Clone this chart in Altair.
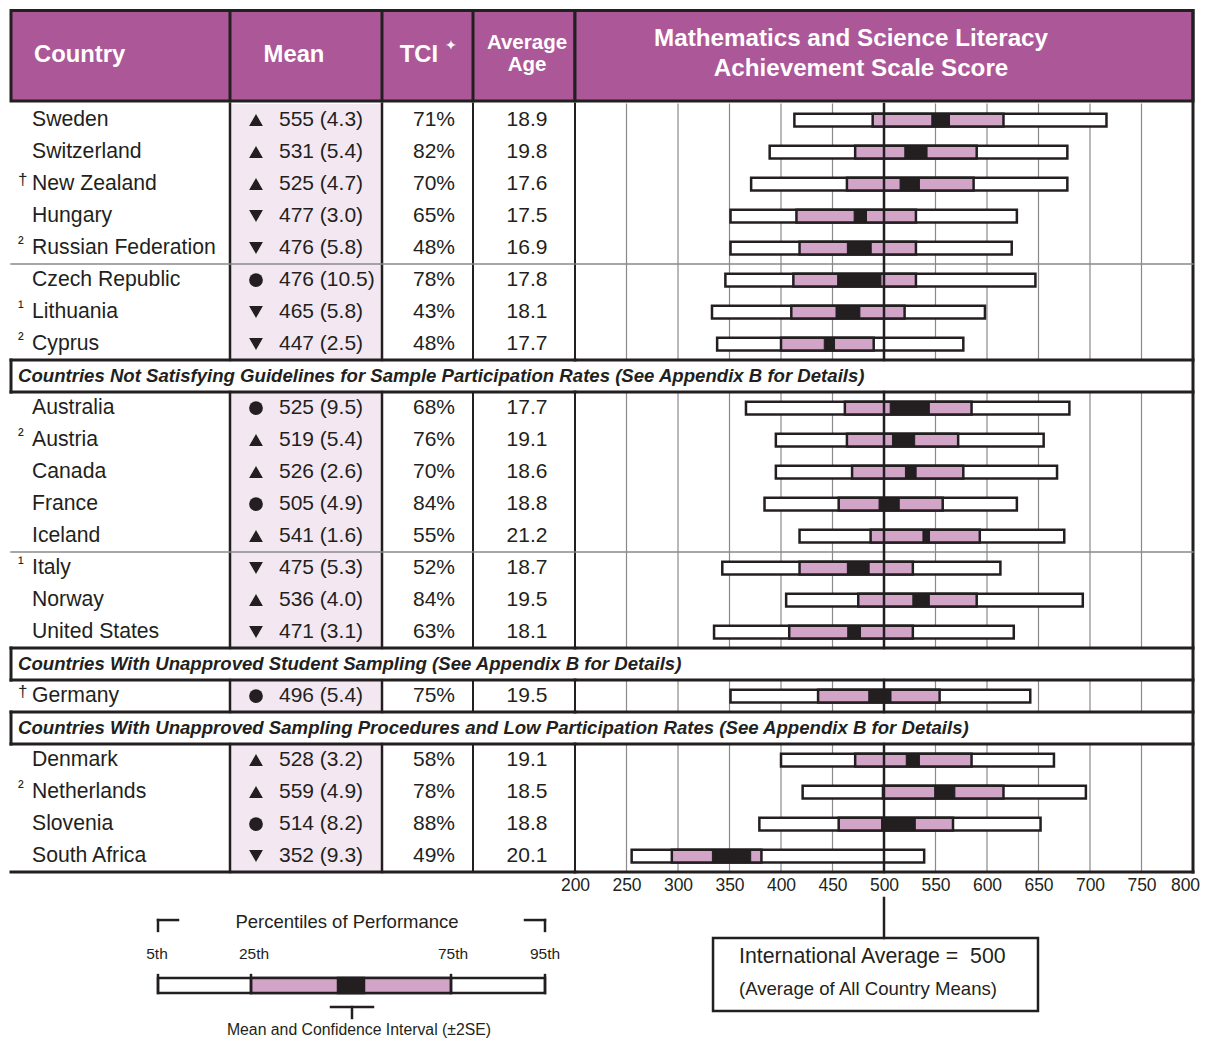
import altair as alt
import pandas as pd

DARK = "#231f20"
PURPLE = "#ac5898"
PINK = "#d2a5c8"
MEANBG = "#f3e8f1"
GRID = "#8a8a8a"
FONT = "Liberation Sans"

# ---------------- data ----------------
countries = ["Sweden", "Switzerland", "New Zealand", "Hungary", "Russian Federation",
             "Czech Republic", "Lithuania", "Cyprus",
             "Australia", "Austria", "Canada", "France", "Iceland",
             "Italy", "Norway", "United States",
             "Germany",
             "Denmark", "Netherlands", "Slovenia", "South Africa"]
notes = ["", "", "\u2020", "", "\u00b2", "", "\u00b9", "\u00b2",
         "", "\u00b2", "", "", "", "\u00b9", "", "",
         "\u2020", "", "\u00b2", "", ""]
means = [555, 531, 525, 477, 476, 476, 465, 447, 525, 519, 526, 505, 541,
         475, 536, 471, 496, 528, 559, 514, 352]
ses = [4.3, 5.4, 4.7, 3.0, 5.8, 10.5, 5.8, 2.5, 9.5, 5.4, 2.6, 4.9, 1.6,
       5.3, 4.0, 3.1, 5.4, 3.2, 4.9, 8.2, 9.3]
signif = ["up", "up", "up", "down", "down", "same", "down", "down",
          "same", "up", "up", "same", "up", "down", "up", "down",
          "same", "up", "up", "same", "down"]
tci = [71, 82, 70, 65, 48, 78, 43, 48, 68, 76, 70, 84, 55, 52, 84, 63, 75, 58, 78, 88, 49]
ages = [18.9, 19.8, 17.6, 17.5, 16.9, 17.8, 18.1, 17.7, 17.7, 19.1, 18.6, 18.8, 21.2,
        18.7, 19.5, 18.1, 19.5, 19.1, 18.5, 18.8, 20.1]
p5 = [413, 389, 371, 351, 351, 346, 333, 338, 366, 395, 395, 384, 418, 343, 405, 335,
      351, 400, 421, 379, 255]
p25 = [489, 472, 464, 415, 418, 412, 410, 400, 462, 464, 469, 456, 487, 418, 475, 408,
       436, 472, 499, 456, 294]
p75 = [616, 590, 587, 531, 531, 531, 520, 490, 585, 572, 577, 557, 593, 528, 590, 528,
       554, 585, 616, 567, 381]
p95 = [716, 678, 678, 629, 624, 647, 598, 577, 680, 655, 668, 629, 675, 613, 693, 626,
       642, 665, 696, 652, 539]
slots = [0, 1, 2, 3, 4, 5, 6, 7, 9, 10, 11, 12, 13, 14, 15, 16, 18, 20, 21, 22, 23]

group_titles = [
    "Countries Not Satisfying Guidelines for Sample Participation Rates (See Appendix B for Details)",
    "Countries With Unapproved Student Sampling (See Appendix B for Details)",
    "Countries With Unapproved Sampling Procedures and Low Participation Rates (See Appendix B for Details)",
]
group_slots = [8, 17, 19]
segments = [(0, 8), (9, 17), (18, 19), (20, 24)]
thin_breaks = [5, 14]
score_ticks = list(range(200, 801, 50))
intl_avg = 500

# ---------------- layout helpers ----------------
YMIN = -2.97
H = 1026
YMAX = YMIN + H / 32.0
LW, RW = 564, 618
HT, HB = -2.92, -0.094  # header top / bottom

score_axis = alt.Axis(values=score_ticks, ticks=False, domain=False, grid=False,
                      labelFlush=False, labelOverlap=False, labelFont=FONT,
                      labelFontSize=17.5, labelColor=DARK, labelPadding=4,
                      labelOffset={"expr": "datum.value == 800 ? -8 : 0"},
                      offset=-(H - 32 * (24 - YMIN)), title=None)


def Y(f):
    return alt.Y(f"{f}:Q", scale=alt.Scale(domain=[YMIN, YMAX], reverse=True, nice=False, zero=False), axis=None)


def LX(f):
    return alt.X(f"{f}:Q", scale=alt.Scale(domain=[0, LW], nice=False, zero=False), axis=None)


def RX(f):
    return alt.X(f"{f}:Q", scale=alt.Scale(domain=[200, 800], nice=False, zero=False), axis=score_axis)


def seg_layer(rows, xfn):
    df = pd.DataFrame(rows, columns=["x1", "x2", "y1", "y2", "w", "c"])
    return alt.Chart(df).mark_rule(strokeCap="square").encode(
        x=xfn("x1"), x2=alt.X2("x2:Q"), y=Y("y1"), y2=alt.Y2("y2:Q"),
        strokeWidth=alt.StrokeWidth("w:Q", scale=None),
        color=alt.Color("c:N", scale=None))


def rect_layer(rows, xfn, **kw):
    df = pd.DataFrame(rows, columns=["x1", "x2", "y1", "y2"])
    return alt.Chart(df).mark_rect(**kw).encode(
        x=xfn("x1"), x2=alt.X2("x2:Q"), y=Y("y1"), y2=alt.Y2("y2:Q"))


def text_layer(rows, xfn, **kw):
    df = pd.DataFrame(rows, columns=["x", "y", "t"])
    style = dict(font=FONT, color=DARK, baseline="middle")
    style.update(kw)
    return alt.Chart(df).mark_text(**style).encode(x=xfn("x"), y=Y("y"), text="t:N")


rows_df = pd.DataFrame({
    "country": countries, "note": notes, "mean": means, "se": ses, "sig": signif,
    "tci": tci, "age": ages, "p5": p5, "p25": p25, "p75": p75, "p95": p95, "slot": slots,
})
rows_df["yc"] = rows_df["slot"] + 0.5
rows_df["ylo"] = rows_df["yc"] - 0.2
rows_df["yhi"] = rows_df["yc"] + 0.2
rows_df["ci_lo"] = rows_df["mean"] - 2 * rows_df["se"]
rows_df["ci_hi"] = rows_df["mean"] + 2 * rows_df["se"]
rows_df["mean_txt"] = [f"{m} ({s:.1f})" for m, s in zip(means, ses)]
rows_df["tci_txt"] = [f"{t}%" for t in tci]
rows_df["age_txt"] = [f"{a:.1f}" for a in ages]

groups_df = pd.DataFrame({"t": group_titles, "slot": group_slots})
groups_df["yc"] = groups_df["slot"] + 0.5

# ---------------- left panel (table) ----------------
L = []
L.append(rect_layer([(219, 371, a, b) for a, b in segments], LX, fill=MEANBG))
L.append(rect_layer([(0, LW, HT, HB)], LX, fill=PURPLE, stroke=DARK, strokeWidth=3))
lsegs = []
for xv in (219, 371, 462):
    lsegs.append((xv, xv, HT, HB, 3, DARK))
for a, b in segments:
    lsegs.append((219, 219, a, b, 2.5, DARK))
    lsegs.append((371, 371, a, b, 2.5, DARK))
    lsegs.append((462, 462, a, b, 2, DARK))
for s in thin_breaks:
    lsegs.append((0, LW, s, s, 1.5, GRID))
for g in group_slots:
    lsegs.append((0, LW, g, g, 3, DARK))
    lsegs.append((0, LW, g + 1, g + 1, 3, DARK))
    lsegs.append((0, 0, g, g + 1, 3, DARK))
lsegs.append((0, LW, 24, 24, 3, DARK))
L.append(seg_layer(lsegs, LX))

base = alt.Chart(rows_df)
L.append(base.mark_text(font=FONT, color=DARK, baseline="middle", align="left", fontSize=21.2)
         .encode(x=alt.value(21), y=Y("yc"), text="country:N"))
L.append(base.mark_text(font=FONT, color=DARK, baseline="middle", align="left", fontSize=17, dy=-4)
         .encode(x=alt.value(7), y=Y("yc"), text="note:N"))
L.append(base.mark_point(filled=True, opacity=1, size=190, color=DARK)
         .encode(x=alt.value(245), y=Y("yc"),
                 shape=alt.Shape("sig:N", scale=alt.Scale(domain=["up", "down", "same"],
                                                          range=["triangle-up", "triangle-down", "circle"]),
                                 legend=None)))
L.append(base.mark_text(font=FONT, color=DARK, baseline="middle", align="left", fontSize=21)
         .encode(x=alt.value(268), y=Y("yc"), text="mean_txt:N"))
L.append(base.mark_text(font=FONT, color=DARK, baseline="middle", align="center", fontSize=21)
         .encode(x=alt.value(423), y=Y("yc"), text="tci_txt:N"))
L.append(base.mark_text(font=FONT, color=DARK, baseline="middle", align="center", fontSize=21)
         .encode(x=alt.value(516), y=Y("yc"), text="age_txt:N"))
L.append(alt.Chart(groups_df).mark_text(font=FONT, color=DARK, baseline="middle", align="left",
                                         fontSize=18.6, fontWeight="bold", fontStyle="italic")
         .encode(x=alt.value(7), y=Y("yc"), text="t:N"))
# header texts
L.append(text_layer([(23, -1.53, "Country")], LX, align="left", fontSize=23.8, fontWeight="bold", color="white"))
L.append(text_layer([(283, -1.53, "Mean"), (408, -1.53, "TCI")], LX, align="center",
                    fontSize=23.8, fontWeight="bold", color="white"))
L.append(text_layer([(440, -1.8, "\u2726")], LX, align="center", fontSize=14, color="white"))
L.append(text_layer([(516, -1.91, "Average"), (516, -1.22, "Age")], LX, align="center",
                    fontSize=20.5, fontWeight="bold", color="white"))
# legend schematic
leg_p = [147, 240, 440, 534]
leg_ci = [327, 353]
BY1, BY2 = 27.31, 27.78
L.append(rect_layer([(leg_p[0], leg_p[3], BY1, BY2)], LX, fill="white", stroke=DARK, strokeWidth=2.5))
L.append(rect_layer([(leg_p[1], leg_p[2], BY1, BY2)], LX, fill=PINK, stroke=DARK, strokeWidth=2.5))
L.append(rect_layer([(leg_ci[0], leg_ci[1], BY1, BY2)], LX, fill=DARK, stroke=DARK, strokeWidth=2.5))
legsegs = [(147, 167, 25.5, 25.5, 2.5, DARK), (147, 147, 25.5, 25.84, 2.5, DARK),
           (514, 534, 25.5, 25.5, 2.5, DARK), (534, 534, 25.5, 25.84, 2.5, DARK),
           (320, 362, 28.22, 28.22, 2.5, DARK), (341, 341, 28.22, 28.56, 2.5, DARK)]
for p in leg_p:
    legsegs.append((p, p, 27.22, BY2, 2.5, DARK))
L.append(seg_layer(legsegs, LX))
L.append(text_layer([(336, 25.57, "Percentiles of Performance")], LX, align="center", fontSize=18.5))
L.append(text_layer([(146, 26.56, "5th"), (243, 26.56, "25th"), (442, 26.56, "75th"), (534, 26.56, "95th")],
                    LX, align="center", fontSize=15.5))
L.append(text_layer([(348, 28.94, "Mean and Confidence Interval (\u00b12SE)")], LX, align="center", fontSize=15.8))

left = alt.layer(*L).properties(width=LW, height=H)

# ---------------- right panel (scores) ----------------
R = []
gsegs = []
for a, b in segments:
    for t in score_ticks[1:-1]:
        if t != intl_avg:
            gsegs.append((t, t, a, b, 1.2, GRID))
R.append(seg_layer(gsegs, RX))
R.append(rect_layer([(200, 800, HT, HB)], RX, fill=PURPLE, stroke=DARK, strokeWidth=3))
rsegs = []
for a, b in segments:
    rsegs.append((200, 200, a, b, 2, DARK))
rsegs.append((800, 800, HT, 24, 3, DARK))
for s in thin_breaks:
    rsegs.append((200, 800, s, s, 1.5, GRID))
for g in group_slots:
    rsegs.append((200, 800, g, g, 3, DARK))
    rsegs.append((200, 800, g + 1, g + 1, 3, DARK))
rsegs.append((200, 800, 24, 24, 3, DARK))
R.append(seg_layer(rsegs, RX))

rb = alt.Chart(rows_df)
R.append(rb.mark_rect(fill="white", stroke=DARK, strokeWidth=2.5)
         .encode(x=RX("p5"), x2=alt.X2("p95:Q"), y=Y("ylo"), y2=alt.Y2("yhi:Q")))
R.append(rb.mark_rect(fill=PINK, stroke=DARK, strokeWidth=2.5)
         .encode(x=RX("p25"), x2=alt.X2("p75:Q"), y=Y("ylo"), y2=alt.Y2("yhi:Q")))
R.append(rb.mark_rect(fill=DARK, stroke=DARK, strokeWidth=1)
         .encode(x=RX("ci_lo"), x2=alt.X2("ci_hi:Q"), y=Y("ylo"), y2=alt.Y2("yhi:Q")))

avg_segs = [(intl_avg, intl_avg, a, b, 2.5, DARK) for a, b in segments]
avg_segs.append((intl_avg, intl_avg, 24.81, 26.06, 2.5, DARK))
R.append(seg_layer(avg_segs, RX))

R.append(text_layer([(468, -2.03, "Mathematics and Science Literacy"),
                     (477.7, -1.09, "Achievement Scale Score")], RX, align="center",
                    fontSize=24.2, fontWeight="bold", color="white"))
R.append(rect_layer([(334, 649.5, 26.06, 28.34)], RX, fillOpacity=0, stroke=DARK, strokeWidth=2.5))
R.append(text_layer([(359.2, 26.66, "International Average = \u00a0500")], RX, align="left", fontSize=21.3))
R.append(text_layer([(359.2, 27.66, "(Average of All Country Means)")], RX, align="left", fontSize=18.6))

right = alt.layer(*R).properties(width=RW, height=H)

chart = alt.hconcat(left, right, spacing=0, bounds="flush").configure_view(strokeWidth=0).properties(
    padding={"left": 0, "top": 0, "right": 0, "bottom": 0}, background="white")

chart.save("out.html", embed_options={"renderer": "svg", "actions": False})
